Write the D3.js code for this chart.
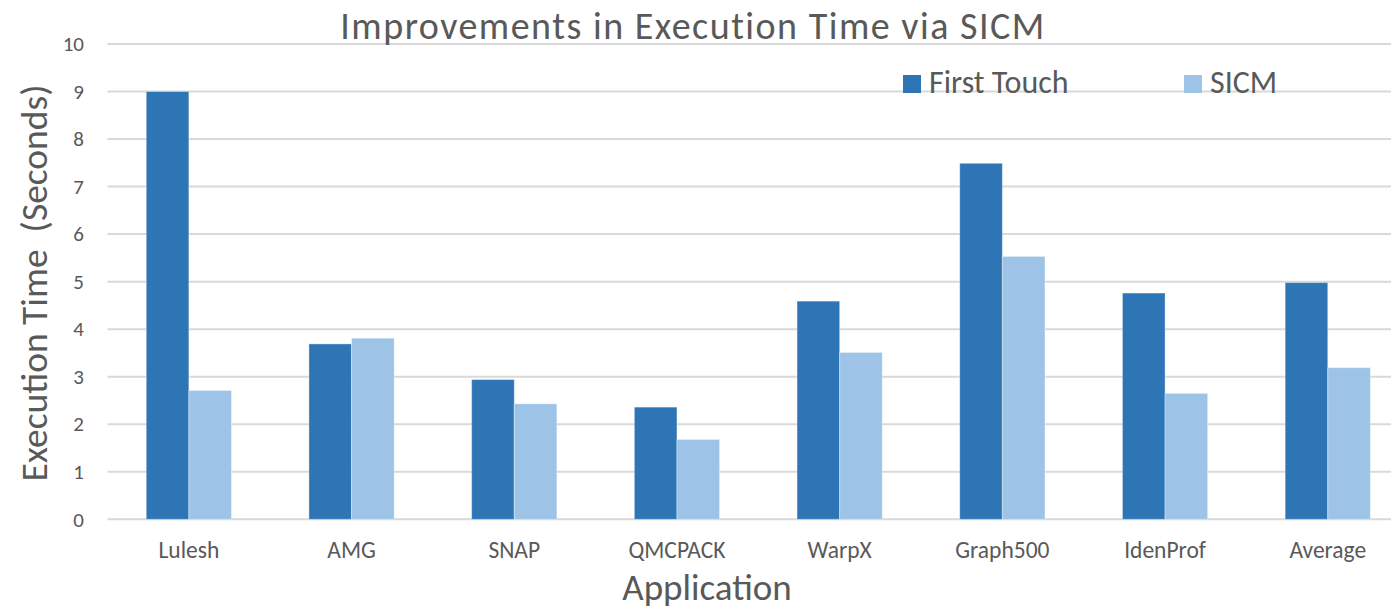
<!DOCTYPE html>
<html>
<head>
<meta charset="utf-8">
<script src="https://cdn.jsdelivr.net/npm/d3@7"></script>
<style>
  body { margin: 0; background: #fff; }
  svg { display: block; font-family: Calibri, Carlito, Lato, sans-serif; }
</style>
</head>
<body>
<div id="chart"></div>
<script>
// Data
const applications = ["Lulesh", "AMG", "SNAP", "QMCPACK", "WarpX", "Graph500", "IdenProf", "Average"]
const seriesNames = ["First Touch", "SICM"]
const firstTouch = [9.0, 3.69, 2.94, 2.36, 4.59, 7.49, 4.76, 4.98]
const sicm = [2.71, 3.81, 2.43, 1.68, 3.51, 5.53, 2.65, 3.19]
const yTicks = [0, 1, 2, 3, 4, 5, 6, 7, 8, 9, 10]

const COLORS = { "First Touch": "#2E75B6", "SICM": "#9DC3E6" }
const TEXT = "#595959"

const width = 1391
const height = 609
const margin = { top: 44, left: 107.5 }
const bandW = 162.7
const plotRight = margin.left + bandW * applications.length
const plotBottom = 519.3

const svg = d3.select("#chart")
  .append("svg")
  .attr("width", width)
  .attr("height", height)

const x0 = d3.scaleBand()
  .domain(applications)
  .range([margin.left, plotRight])

const barW = 42.6
const x1 = d3.scaleBand()
  .domain(seriesNames)
  .range([x0.bandwidth() / 2 - barW, x0.bandwidth() / 2 + barW])

const y = d3.scaleLinear()
  .domain([0, 10])
  .range([plotBottom, margin.top])

// Grid
svg.append("g")
  .selectAll("line")
  .data(yTicks)
  .join("line")
  .attr("x1", margin.left)
  .attr("x2", plotRight)
  .attr("y1", d => y(d))
  .attr("y2", d => y(d))
  .attr("stroke", "#d9d9d9")
  .attr("stroke-width", 2)

// Y axis labels
const yAxis = svg.append("g")
  .attr("transform", `translate(${margin.left},0)`)
  .call(d3.axisLeft(y).tickValues(yTicks).tickSize(0).tickPadding(23.5))
  .attr("font-family", null)
  .attr("font-size", null)
yAxis.select(".domain").remove()
yAxis.selectAll("text")
  .attr("fill", TEXT)
  .style("font-size", "21px")

// Bars
const rows = applications.map((a, i) => ({ app: a, values: [
  { key: "First Touch", value: firstTouch[i] },
  { key: "SICM", value: sicm[i] }
] }))

const groups = svg.append("g")
  .selectAll("g")
  .data(rows)
  .join("g")
  .attr("transform", d => `translate(${x0(d.app)},0)`)

groups.selectAll("rect")
  .data(d => d.values)
  .join("rect")
  .attr("x", d => x1(d.key))
  .attr("width", x1.bandwidth())
  .attr("y", d => y(d.value))
  .attr("height", d => plotBottom - y(d.value))
  .attr("fill", d => COLORS[d.key])
  .attr("stroke", "#fff")
  .attr("stroke-opacity", 0.35)
  .attr("stroke-width", 1)

// X axis labels
const xAxis = svg.append("g")
  .attr("transform", `translate(0,${plotBottom})`)
  .call(d3.axisBottom(x0).tickSize(0).tickPadding(22))
  .attr("font-family", null)
  .attr("font-size", null)
xAxis.select(".domain").remove()
xAxis.selectAll("text")
  .attr("fill", TEXT)
  .style("font-size", "23.5px")

// Title
svg.append("text")
  .attr("x", 693)
  .attr("y", 39)
  .attr("text-anchor", "middle")
  .attr("fill", TEXT)
  .style("font-size", "38px")
  .style("letter-spacing", "1.5px")
  .text("Improvements in Execution Time via SICM")

// Axis titles
svg.append("text")
  .attr("x", 707)
  .attr("y", 600)
  .attr("text-anchor", "middle")
  .attr("fill", TEXT)
  .style("font-size", "37px")
  .text("Application")

svg.append("text")
  .attr("transform", "translate(47,283) rotate(-90)")
  .attr("text-anchor", "middle")
  .attr("fill", TEXT)
  .style("font-size", "37.5px")
  .style("white-space", "pre")
  .text("Execution Time  (Seconds)")

// Legend
const legendX = [903, 1184]
const legend = svg.append("g")
  .selectAll("g")
  .data(seriesNames)
  .join("g")
  .attr("transform", (d, i) => `translate(${legendX[i]},75)`)

legend.append("rect")
  .attr("width", 18)
  .attr("height", 18)
  .attr("fill", d => COLORS[d])

legend.append("text")
  .attr("x", 26)
  .attr("y", 18)
  .attr("fill", TEXT)
  .style("font-size", "32px")
  .text(d => d)
</script>
</body>
</html>
